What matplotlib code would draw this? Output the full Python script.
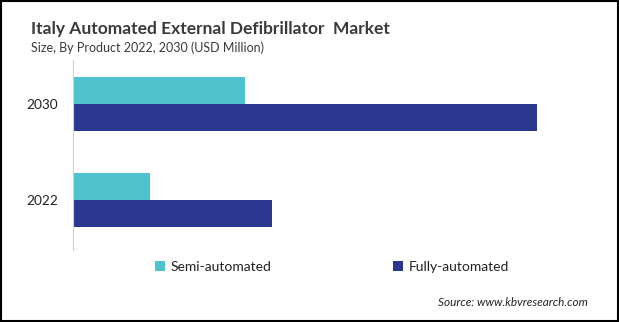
import matplotlib
matplotlib.use('Agg')
import matplotlib.pyplot as plt
from matplotlib.patches import Rectangle

plt.rcParams['font.family'] = ['Lato', 'DejaVu Sans']

years = ['2022', '2030']
semi = [7.7, 17.2]
fully = [19.9, 46.4]
c_semi = '#4FC3CD'
c_fully = '#2B388F'

fig = plt.figure(figsize=(6.19, 3.22), dpi=100)
ax = fig.add_axes([73/619, 1-250/322, (590-73)/619, 190/322])

pos = range(len(years))
h = 0.28
ax.barh([p + 0.14 for p in pos], semi, height=h, color=c_semi, label='Semi-automated')
ax.barh([p - 0.145 for p in pos], fully, height=h, color=c_fully, label='Fully-automated')

ax.set_xlim(0, 51.7)
ax.set_ylim(-0.521, 1.458)
ax.set_yticks(list(pos))
ax.set_yticklabels(years, fontsize=9.8, color='#222222')
ax.tick_params(axis='y', length=0, pad=10.5)
ax.set_xticks([])
for s in ['top', 'right', 'bottom']:
    ax.spines[s].set_visible(False)
ax.spines['left'].set_color('#d0d0d0')

fig.text(31/619, 1-29/322, 'Italy Automated External Defibrillator  Market',
         fontsize=12.5, fontweight='bold', color='#3a3a3a', va='center')
fig.text(31/619, 1-48/322, 'Size, By Product 2022, 2030 (USD Million)',
         fontsize=9, color='#3a3a3a', va='center')

leg = fig.legend(loc='center', bbox_to_anchor=(332/619, 1-267/322), ncol=2,
                 frameon=False, fontsize=10, handlelength=0.7, handleheight=0.7,
                 handletextpad=0.4, columnspacing=8.8)
for t in leg.get_texts():
    t.set_color('#222222')

fig.text(588/619, 1-302/322, 'Source: www.kbvresearch.com', fontsize=8.5,
         style='italic', color='#222222', ha='right', va='center')

fig.patches.append(Rectangle((0.001, 0.002), 0.997, 0.995, transform=fig.transFigure,
                             fill=False, edgecolor='black', linewidth=1.5))

fig.savefig('out.png', dpi=100)
